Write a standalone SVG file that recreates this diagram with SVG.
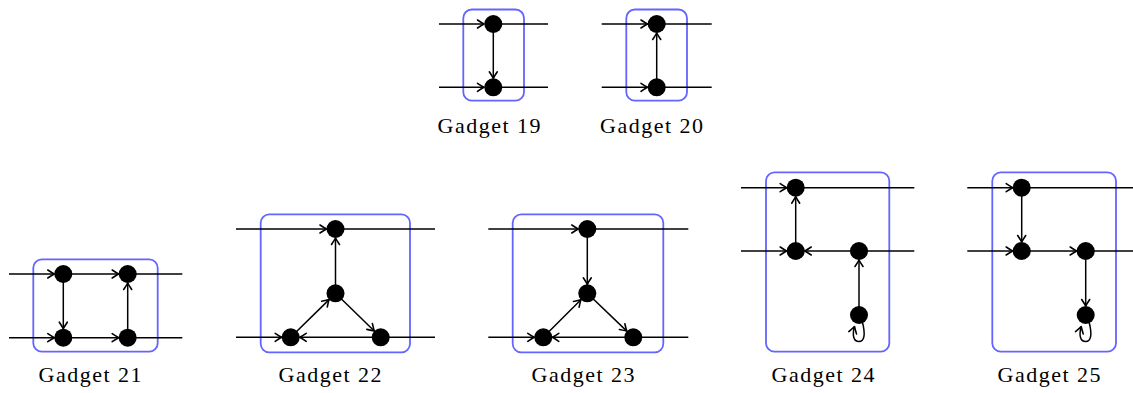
<svg xmlns="http://www.w3.org/2000/svg" width="1133" height="393" viewBox="0 0 1133 393">
<style>
.box{fill:none;stroke:#6464ff;stroke-width:1.8}
.e{fill:none;stroke:#000;stroke-width:1.5}
.a{fill:none;stroke:#000;stroke-width:1.5;marker-end:url(#arr)}
.n{fill:#000}
.lbl{font-family:"Liberation Serif","Times New Roman",serif;font-size:22px;fill:#000;text-anchor:middle}
</style>
<defs>
<marker id="arr" markerUnits="userSpaceOnUse" viewBox="-8 -5 10 10" markerWidth="10" markerHeight="10" refX="0" refY="0" orient="auto" overflow="visible">
<path d="M -6.5,-4 Q -2,-1 0,0 Q -2,1 -6.5,4" fill="none" stroke="#000" stroke-width="1.6" stroke-linecap="round" stroke-linejoin="round"/>
</marker>
</defs>
<g id="boxes">
<rect id="box19" class="box" x="463.3" y="9.5" width="60.7" height="91.2" rx="8.5"/>
<rect id="box20" class="box" x="626.3" y="9.5" width="60.7" height="91.2" rx="8.5"/>
<rect id="box21" class="box" x="33.3" y="259.3" width="124.4" height="92.4" rx="8.5"/>
<rect id="box22" class="box" x="260.7" y="214.3" width="149.3" height="138" rx="8.5"/>
<rect id="box23" class="box" x="512.7" y="214.3" width="150.6" height="138" rx="8.5"/>
<rect id="box24" class="box" x="766" y="172.3" width="123.3" height="179.4" rx="8.5"/>
<rect id="box25" class="box" x="992.3" y="172.3" width="123.7" height="179.4" rx="8.5"/>
</g>
<g id="connectors">
<!-- Gadget 19 -->
<line class="a" x1="439" y1="24" x2="484" y2="24"/>
<line class="e" x1="493.3" y1="24" x2="548" y2="24"/>
<line class="a" x1="439" y1="87.3" x2="484" y2="87.3"/>
<line class="e" x1="493.3" y1="87.3" x2="548" y2="87.3"/>
<line class="a" x1="493.3" y1="24" x2="493.3" y2="78.3"/>
<!-- Gadget 20 -->
<line class="a" x1="601.7" y1="24" x2="647.5" y2="24"/>
<line class="e" x1="656.7" y1="24" x2="711.7" y2="24"/>
<line class="a" x1="601.7" y1="87.3" x2="647.5" y2="87.3"/>
<line class="e" x1="656.7" y1="87.3" x2="711.7" y2="87.3"/>
<line class="a" x1="656.7" y1="87.3" x2="656.7" y2="33"/>
<!-- Gadget 21 -->
<line class="a" x1="9" y1="274" x2="54.3" y2="274"/>
<line class="a" x1="63.3" y1="274" x2="118.7" y2="274"/>
<line class="e" x1="127.7" y1="274" x2="182.3" y2="274"/>
<line class="a" x1="9" y1="337.7" x2="54.3" y2="337.7"/>
<line class="a" x1="63.3" y1="337.7" x2="118.7" y2="337.7"/>
<line class="e" x1="127.7" y1="337.7" x2="182.3" y2="337.7"/>
<line class="a" x1="63.3" y1="274" x2="63.3" y2="328.7"/>
<line class="a" x1="127.7" y1="337.7" x2="127.7" y2="283"/>
<!-- Gadget 22 -->
<line class="a" x1="236" y1="229" x2="326.5" y2="229"/>
<line class="e" x1="335.5" y1="229" x2="435" y2="229"/>
<line class="a" x1="236" y1="337.3" x2="281.7" y2="337.3"/>
<line class="a" x1="380.7" y1="337.3" x2="299.7" y2="337.3"/>
<line class="e" x1="380.7" y1="337.3" x2="435" y2="337.3"/>
<line class="a" x1="335.5" y1="293.3" x2="335.5" y2="238"/>
<line class="a" x1="290.7" y1="337.3" x2="329.1" y2="299.6"/>
<line class="a" x1="335.5" y1="293.3" x2="374.3" y2="331"/>
<!-- Gadget 23 -->
<line class="a" x1="488.3" y1="229" x2="578.3" y2="229"/>
<line class="e" x1="587.3" y1="229" x2="688.3" y2="229"/>
<line class="a" x1="488.3" y1="337.3" x2="534.3" y2="337.3"/>
<line class="a" x1="633.3" y1="337.3" x2="552.3" y2="337.3"/>
<line class="e" x1="633.3" y1="337.3" x2="688.3" y2="337.3"/>
<line class="a" x1="587.3" y1="229" x2="587.3" y2="284.3"/>
<line class="a" x1="543.3" y1="337.3" x2="580.9" y2="299.7"/>
<line class="a" x1="587.3" y1="293.3" x2="626.8" y2="331.1"/>
<!-- Gadget 24 -->
<line class="a" x1="741" y1="187.7" x2="786.7" y2="187.7"/>
<line class="e" x1="795.7" y1="187.7" x2="914.3" y2="187.7"/>
<line class="a" x1="741" y1="251" x2="786.7" y2="251"/>
<line class="a" x1="859" y1="251" x2="804.7" y2="251"/>
<line class="e" x1="859" y1="251" x2="914.3" y2="251"/>
<line class="a" x1="795.7" y1="251" x2="795.7" y2="196.7"/>
<line class="a" x1="859" y1="315" x2="859" y2="260"/>
<path class="a" d="M 862.5,322.5 C 865.5,334 864.5,341.5 859,341.5 C 853.5,341.5 852,335 854.5,326.5"/>
<!-- Gadget 25 -->
<line class="a" x1="967.3" y1="187.7" x2="1012.7" y2="187.7"/>
<line class="e" x1="1021.7" y1="187.7" x2="1133" y2="187.7"/>
<line class="a" x1="967.3" y1="251" x2="1012.7" y2="251"/>
<line class="a" x1="1021.7" y1="251" x2="1076.7" y2="251"/>
<line class="e" x1="1085.7" y1="251" x2="1133" y2="251"/>
<line class="a" x1="1021.7" y1="187.7" x2="1021.7" y2="242"/>
<line class="a" x1="1085.7" y1="251" x2="1085.7" y2="306"/>
<path class="a" d="M 1089.2,322.5 C 1092.2,334 1091.2,341.5 1085.7,341.5 C 1080.2,341.5 1078.7,335 1081.2,326.5"/>
</g>
<g id="g19a"><circle class="n" cx="493.3" cy="24" r="9"/></g>
<g id="g19b"><circle class="n" cx="493.3" cy="87.3" r="9"/></g>
<g id="g20a"><circle class="n" cx="656.7" cy="24" r="9"/></g>
<g id="g20b"><circle class="n" cx="656.7" cy="87.3" r="9"/></g>
<g id="g21a"><circle class="n" cx="63.3" cy="274" r="9"/></g>
<g id="g21b"><circle class="n" cx="127.7" cy="274" r="9"/></g>
<g id="g21c"><circle class="n" cx="63.3" cy="337.7" r="9"/></g>
<g id="g21d"><circle class="n" cx="127.7" cy="337.7" r="9"/></g>
<g id="g22top"><circle class="n" cx="335.5" cy="229" r="9"/></g>
<g id="g22mid"><circle class="n" cx="335.5" cy="293.3" r="9"/></g>
<g id="g22bl"><circle class="n" cx="290.7" cy="337.3" r="9"/></g>
<g id="g22br"><circle class="n" cx="380.7" cy="337.3" r="9"/></g>
<g id="g23top"><circle class="n" cx="587.3" cy="229" r="9"/></g>
<g id="g23mid"><circle class="n" cx="587.3" cy="293.3" r="9"/></g>
<g id="g23bl"><circle class="n" cx="543.3" cy="337.3" r="9"/></g>
<g id="g23br"><circle class="n" cx="633.3" cy="337.3" r="9"/></g>
<g id="g24tl"><circle class="n" cx="795.7" cy="187.7" r="9"/></g>
<g id="g24ml"><circle class="n" cx="795.7" cy="251" r="9"/></g>
<g id="g24mr"><circle class="n" cx="859" cy="251" r="9"/></g>
<g id="g24b"><circle class="n" cx="859" cy="315" r="9"/></g>
<g id="g25tl"><circle class="n" cx="1021.7" cy="187.7" r="9"/></g>
<g id="g25ml"><circle class="n" cx="1021.7" cy="251" r="9"/></g>
<g id="g25mr"><circle class="n" cx="1085.7" cy="251" r="9"/></g>
<g id="g25b"><circle class="n" cx="1085.7" cy="315" r="9"/></g>
<g id="labels">
<text class="lbl" x="489" y="133" textLength="103" lengthAdjust="spacing">Gadget 19</text>
<text class="lbl" x="651.5" y="133" textLength="103" lengthAdjust="spacing">Gadget 20</text>
<text class="lbl" x="90" y="381.5" textLength="103" lengthAdjust="spacing">Gadget 21</text>
<text class="lbl" x="330" y="381.5" textLength="103" lengthAdjust="spacing">Gadget 22</text>
<text class="lbl" x="583" y="381.5" textLength="103" lengthAdjust="spacing">Gadget 23</text>
<text class="lbl" x="823" y="381.5" textLength="103" lengthAdjust="spacing">Gadget 24</text>
<text class="lbl" x="1049" y="381.5" textLength="103" lengthAdjust="spacing">Gadget 25</text>
</g>
</svg>
